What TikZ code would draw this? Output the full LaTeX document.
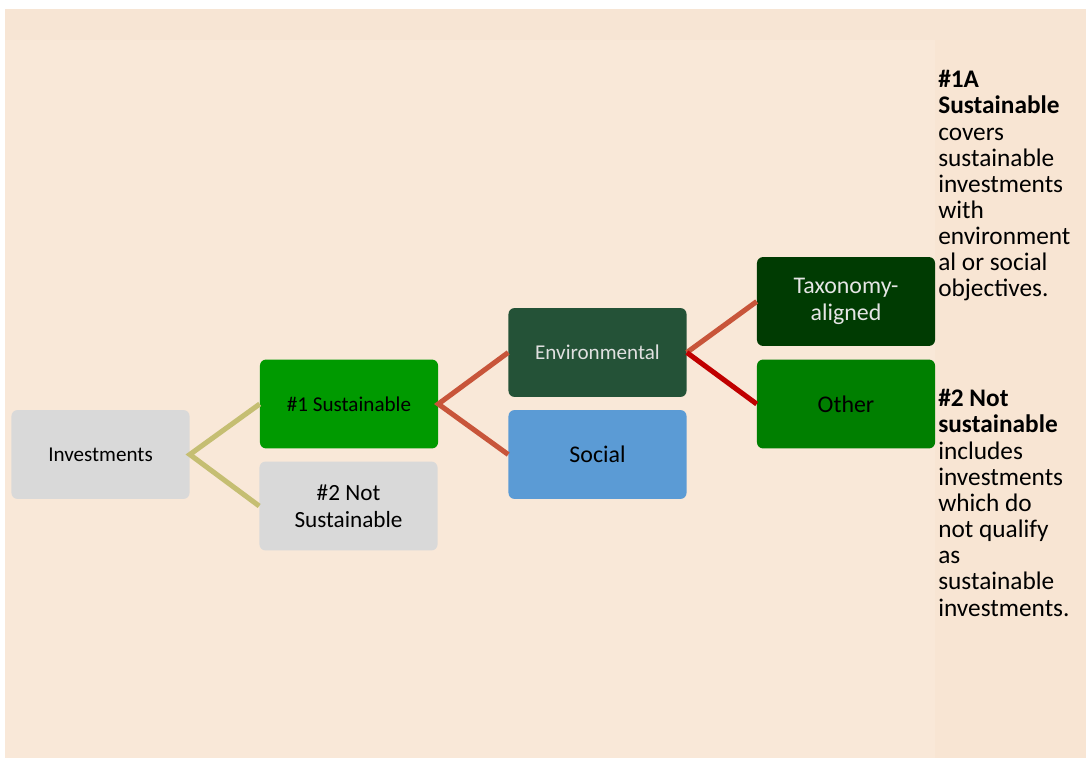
\documentclass[tikz,border=0pt]{standalone}
\usepackage{fontspec}
\setmainfont{Carlito}
\usetikzlibrary{positioning}
\definecolor{bgmain}{HTML}{F9E8D8}
\definecolor{bgtop}{HTML}{F7E5D4}
\definecolor{bgside}{HTML}{F8E5D3}
\definecolor{boxgray}{HTML}{D9D9D9}
\definecolor{susgreen}{HTML}{009A00}
\definecolor{envgreen}{HTML}{245237}
\definecolor{socblue}{HTML}{5B9BD5}
\definecolor{taxgreen}{HTML}{003B02}
\definecolor{othgreen}{HTML}{007F00}
\definecolor{lolive}{HTML}{C5BE72}
\definecolor{lrust}{HTML}{C8553A}
\definecolor{lred}{HTML}{C00000}
\tikzset{box/.style = {rounded corners = 0.15cm, minimum width = 4.45cm,
                       minimum height = 2.22cm, align = center, inner sep = 2pt},
         small/.style = {font = \fontsize{15}{18}\selectfont},
         large/.style = {font = \fontsize{17}{19}\selectfont},
         link/.style = {line width = 3.6pt},
         note/.style = {anchor = base west, align = left, inner sep = 0pt,
                        font = \fontsize{18}{18.6}\selectfont}}

\begin{document}
\begin{tikzpicture}[x = 0.025cm, y = -0.025cm]
      \useasboundingbox [fill = white] (0, 0) rectangle (1091, 760);
      \fill [bgtop] (5, 9) rectangle (1086, 758);
      \fill [bgmain] (5, 40) rectangle (935, 758);
      \fill [bgside] (935, 40) rectangle (1086, 758);
      % tree
      \node [box, small, fill = boxgray] (inv) at (100.5, 454.5) {Investments};
      \node [box, small, fill = susgreen] (sus) at (349, 404) {\#1 Sustainable};
      \node [box, fill = boxgray, font = \fontsize{16.5}{19}\selectfont] (nots) at (348.5, 506) {\#2 Not\\Sustainable};
      \node [box, small, fill = envgreen, text = black!12] (env) at (597.5, 352.5) {Environmental};
      \node [box, large, fill = socblue] (soc) at (597.5, 454.5) {Social};
      \node [box, large, fill = taxgreen, text = black!10] (tax) at (846, 301.5) {Taxonomy-\\aligned};
      \node [box, large, fill = othgreen] (oth) at (846, 404) {Other};
      \draw [link, lolive] (sus.west) -- (inv.east) -- (nots.west);
      \draw [link, lrust] (env.west) -- (sus.east) -- (soc.west);
      \draw [link, lrust] (env.east) -- (tax.west);
      \draw [link, lred] (env.east) -- (oth.west);
      % notes (base = last line)
      \node [note] (notea) at (938, 297) {\textbf{\#1A}\\\textbf{Sustainable}\\covers\\sustainable\\investments\\with\\environment\\al or social\\objectives.};
      \node [note] (noteb) at (938, 616) {\textbf{\#2 Not}\\\textbf{sustainable}\\includes\\investments\\which do\\not qualify\\as\\sustainable\\investments.};
\end{tikzpicture}
\end{document}
